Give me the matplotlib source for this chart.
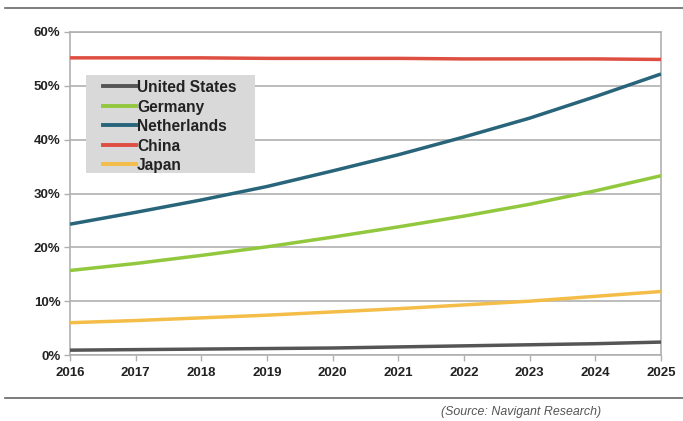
import matplotlib.pyplot as plt
from matplotlib.lines import Line2D
from matplotlib.patches import Rectangle
from matplotlib.ticker import FuncFormatter

plt.rcParams["font.family"] = ["Liberation Sans", "DejaVu Sans"]

years = [2016, 2017, 2018, 2019, 2020, 2021, 2022, 2023, 2024, 2025]
united_states = [0.9, 1.0, 1.1, 1.2, 1.3, 1.5, 1.7, 1.9, 2.1, 2.4]
germany = [15.7, 17.0, 18.5, 20.1, 21.9, 23.8, 25.8, 28.0, 30.5, 33.3]
netherlands = [24.3, 26.5, 28.8, 31.3, 34.2, 37.2, 40.5, 44.0, 48.0, 52.2]
china = [55.2, 55.2, 55.2, 55.1, 55.1, 55.1, 55.0, 55.0, 55.0, 54.9]
japan = [6.0, 6.4, 6.9, 7.4, 8.0, 8.6, 9.3, 10.0, 10.9, 11.8]

series = [
    ("United States", united_states, "#555555"),
    ("Germany", germany, "#92c83e"),
    ("Netherlands", netherlands, "#29657a"),
    ("China", china, "#de4f42"),
    ("Japan", japan, "#f3bd48"),
]

W, H = 683, 421
fig = plt.figure(figsize=(W / 100, H / 100), dpi=100)
ax = fig.add_axes([70 / W, 1 - 355 / H, 591 / W, 323 / H])

for name, vals, color in series:
    ax.plot(years, vals, color=color, lw=2.5, solid_capstyle="butt", label=name, zorder=3)

ax.set_xlim(years[0], years[-1])
ax.set_ylim(0, 60)
ax.set_xticks(years)
ax.set_yticks(range(0, 61, 10))
ax.yaxis.set_major_formatter(FuncFormatter(lambda v, _: f"{v:.0f}%"))
ax.grid(axis="y", color="#b0b0b0", lw=1.2, zorder=1)
for side in ["left", "right", "top", "bottom"]:
    ax.spines[side].set_color("#b0b0b0")
    ax.spines[side].set_linewidth(1.2)
ax.tick_params(axis="both", colors="#b0b0b0", length=4, width=1.0, labelcolor="#222222",
               labelsize=9.5)
ax.tick_params(axis="x", pad=5)
ax.tick_params(axis="y", pad=3)
for lab in ax.get_xticklabels() + ax.get_yticklabels():
    lab.set_fontweight("bold")


# legend drawn by hand in pixel positions of the original
def ax_xy(px, py):
    return (px - 70) / 591, (355 - py) / 323


x0, y0 = ax_xy(86, 173)
x1, y1 = ax_xy(255, 75)
ax.add_patch(Rectangle((x0, y0), x1 - x0, y1 - y0, transform=ax.transAxes,
                       facecolor="#d9d9d9", edgecolor="none", zorder=5))
for i, (name, _, color) in enumerate(series):
    hx0, hy = ax_xy(103, 86 + i * 19.6)
    hx1, _ = ax_xy(136, 0)
    ax.add_line(Line2D([hx0, hx1], [hy, hy], transform=ax.transAxes, color=color,
                       lw=2.8, zorder=6))
    tx, _ = ax_xy(137, 0)
    ax.text(tx, hy, name, transform=ax.transAxes, ha="left", va="center_baseline",
            fontsize=11.2, fontweight="bold", color="#222222", zorder=6)

fig.add_artist(Line2D([5 / W, 1.0], [1 - 8 / H, 1 - 8 / H], color="#666666", lw=1.2))
fig.add_artist(Line2D([5 / W, 1.0], [1 - 398 / H, 1 - 398 / H], color="#666666", lw=1.2))
fig.text(521 / W, 1 - 412 / H, "(Source: Navigant Research)", ha="center", va="center",
         fontsize=8.9, style="italic", color="#555555")

fig.savefig("out.png", dpi=100)
